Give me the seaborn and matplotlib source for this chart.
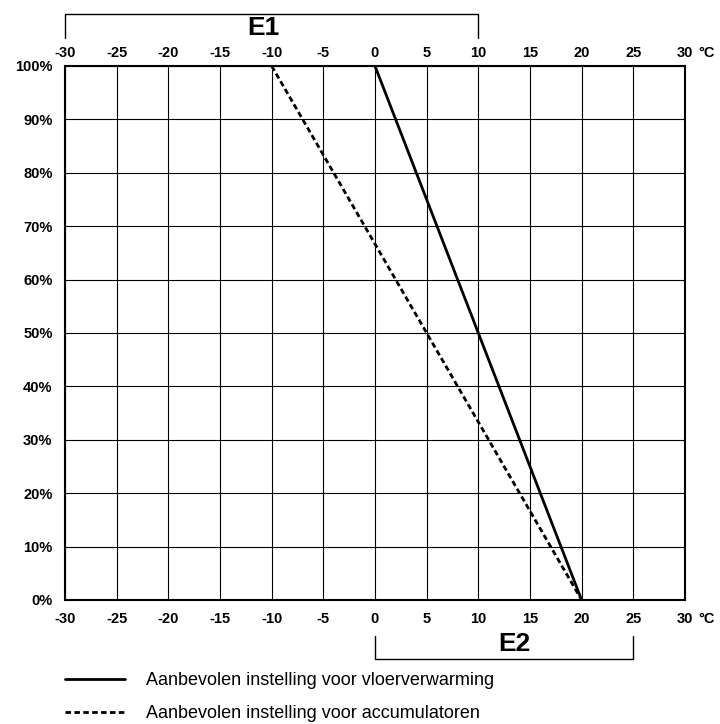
import numpy as np
import pandas as pd
import matplotlib
matplotlib.use("Agg")
import matplotlib.pyplot as plt
import seaborn as sns

# data
x_ticks = [-30, -25, -20, -15, -10, -5, 0, 5, 10, 15, 20, 25, 30]
y_ticks = [0, 10, 20, 30, 40, 50, 60, 70, 80, 90, 100]

floor_temp = [0, 20]
floor_pct = [100, 0]
acc_temp = [-10, 20]
acc_pct = [100, 0]

label_floor = "Aanbevolen instelling voor vloerverwarming"
label_acc = "Aanbevolen instelling voor accumulatoren"

df = pd.DataFrame({
    "temp": floor_temp + acc_temp,
    "pct": floor_pct + acc_pct,
    "serie": [label_floor] * len(floor_temp) + [label_acc] * len(acc_temp),
})

sns.set_style("white")
plt.rcParams["font.family"] = ["Liberation Sans", "DejaVu Sans"]
plt.rcParams["text.color"] = "black"
plt.rcParams["xtick.color"] = "black"
plt.rcParams["ytick.color"] = "black"

fig = plt.figure(figsize=(7.2, 7.24), dpi=100)
ax = fig.add_axes([0.0903, 0.1713, 0.861, 0.7376])

sns.lineplot(data=df, x="temp", y="pct", style="serie", sort=False,
             dashes={label_floor: "", label_acc: (2, 1.2)},
             color="black", linewidth=2, ax=ax)

fs = 10.5
ax.set_xlim(-30, 30)
ax.set_ylim(0, 100)
ax.set_xticks(x_ticks)
ax.set_yticks(y_ticks)
ax.set_xticklabels([str(t) for t in x_ticks], fontweight="bold", fontsize=fs)
ax.set_yticklabels([f"{t}%" for t in y_ticks], fontweight="bold", fontsize=fs)
ax.tick_params(axis="x", length=0, pad=9)
ax.tick_params(axis="y", length=0, pad=9)
ax.set_xlabel("")
ax.set_ylabel("")
ax.grid(True, color="black", linewidth=0.8)
for s in ax.spines.values():
    s.set_color("black")
    s.set_linewidth(1.5)

top = ax.secondary_xaxis("top")
top.set_xticks(x_ticks)
top.set_xticklabels([str(t) for t in x_ticks], fontweight="bold", fontsize=fs)
top.tick_params(length=0, pad=4)
top.spines["top"].set_visible(False)

# degree labels
ax.text(1.022, 1.024, "°C", transform=ax.transAxes, fontweight="bold",
        fontsize=fs, ha="left", va="center")
ax.text(1.022, -0.036, "°C", transform=ax.transAxes, fontweight="bold",
        fontsize=fs, ha="left", va="center")

# brackets E1 / E2
tr = ax.get_xaxis_transform()
ax.plot([-30, -30, 10, 10], [1.052, 1.097, 1.097, 1.052], color="black",
        linewidth=1, transform=tr, clip_on=False)
ax.text(-10.8, 1.072, "E1", transform=tr, fontsize=19, fontweight="bold",
        ha="center", va="center")
ax.plot([0, 0, 25, 25], [-0.067, -0.110, -0.110, -0.067], color="black",
        linewidth=1, transform=tr, clip_on=False)
ax.text(13.5, -0.082, "E2", transform=tr, fontsize=19, fontweight="bold",
        ha="center", va="center")

# legend below the plot
handles, labels = ax.get_legend_handles_labels()
ax.legend(handles, labels, loc="upper left", bbox_to_anchor=(0.0, -0.135),
          frameon=False, fontsize=13, handlelength=3.3, handletextpad=1.2,
          labelspacing=0.9, borderaxespad=0, borderpad=0)

fig.savefig("out.png", dpi=100)
